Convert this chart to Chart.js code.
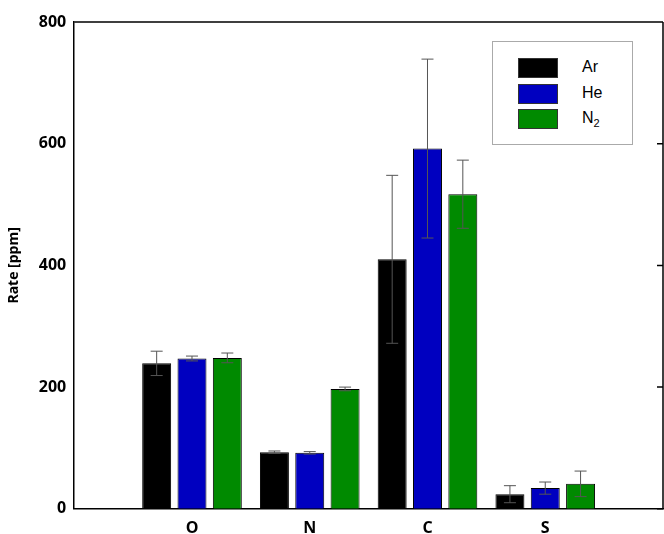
<!DOCTYPE html>
<html>
<head>
<meta charset="utf-8">
<script src="https://cdn.jsdelivr.net/npm/chart.js@4"></script>
<style>
  body { margin: 0; background: #fff; overflow: hidden; }
  #wrap { position: relative; width: 664px; height: 534px; overflow: hidden; }
  #legend { position: absolute; left: 492px; top: 41px; width: 139px; height: 102px;
    border: 1px solid #aaa; background: #fff; font-family: Arial, "Liberation Sans", sans-serif; font-size: 16px; }
  .row { position: absolute; left: 25px; height: 20px; }
  .sw { position: absolute; left: 0; top: 0; width: 38px; height: 18px; border: 1px solid #333; }
  .lb { position: absolute; left: 64px; top: 0; }
</style>
</head>
<body>
<div id="wrap">
  <canvas id="chart" width="673" height="548"></canvas>
  <div id="legend">
    <div class="row" style="top:16px"><div class="sw" style="background:#000"></div><span class="lb">Ar</span></div>
    <div class="row" style="top:42px"><div class="sw" style="background:#0000c0"></div><span class="lb">He</span></div>
    <div class="row" style="top:67px"><div class="sw" style="background:#008a00"></div><span class="lb">N<sub style="font-size:11px">2</sub></span></div>
  </div>
</div>
<script>
// ---------------- DATA -----------------------------
const categories = ["", "O", "N", "C", "S", ""];
const arValues = [null, 239, 93, 410, 24, null];
const arErrors = [0, 20, 2, 138, 14, 0];
const heValues = [null, 247, 92, 592, 34, null];
const heErrors = [0, 4, 2, 147, 10, 0];
const n2Values = [null, 248, 197, 517, 41, null];
const n2Errors = [0, 8, 3, 56, 21, 0];
const yTicks = [0, 200, 400, 600, 800];

// ERROR BARS + FRAME PLUGIN
const errorBars = {
  id: "errorBars",
  afterDatasetsDraw(chart) {
    const ctx = chart.ctx;
    const y = chart.scales.y;
    const a = chart.chartArea;
    ctx.save();
    ctx.strokeStyle = "#555";
    ctx.lineWidth = 1;
    chart.data.datasets.forEach((ds, i) => {
      chart.getDatasetMeta(i).data.forEach((bar, j) => {
        const v = ds.data[j];
        if (v == null) return;
        const e = ds.errors[j];
        const top = y.getPixelForValue(v + e);
        const bot = y.getPixelForValue(v - e);
        ctx.beginPath();
        ctx.moveTo(bar.x, top); ctx.lineTo(bar.x, bot);
        ctx.moveTo(bar.x - 6, top); ctx.lineTo(bar.x + 6, top);
        ctx.moveTo(bar.x - 6, bot); ctx.lineTo(bar.x + 6, bot);
        ctx.stroke();
      });
    });
    // top and right axes with ticks
    ctx.strokeStyle = "#000";
    ctx.lineWidth = 1.5;
    ctx.beginPath();
    ctx.moveTo(a.left, a.top); ctx.lineTo(a.right, a.top);
    ctx.moveTo(a.right, a.top); ctx.lineTo(a.right, a.bottom);
    yTicks.forEach(t => {
      const p = y.getPixelForValue(t);
      ctx.moveTo(a.right, p); ctx.lineTo(a.right - 6, p);
    });
    ctx.stroke();
    ctx.restore();
  }
};

const config = {
  type: "bar",
  data: {
    labels: categories,
    datasets: [
      { label: "Ar", data: arValues, errors: arErrors, backgroundColor: "#000000", borderColor: "#000", borderWidth: 1 },
      { label: "He", data: heValues, errors: heErrors, backgroundColor: "#0000c0", borderColor: "#000", borderWidth: 1 },
      { label: "N2", data: n2Values, errors: n2Errors, backgroundColor: "#008a00", borderColor: "#000", borderWidth: 1 },
    ],
  },
  options: {
    responsive: false,
    animation: false,
    layout: { padding: { top: 22, right: 0, left: 0, bottom: 0 } },
    datasets: { bar: { categoryPercentage: 0.9, barPercentage: 0.82 } },
    plugins: { legend: { display: false }, tooltip: { enabled: false } },
    scales: {
      x: {
        offset: false,
        grid: { display: false, drawTicks: false },
        border: { color: "#000", width: 1.5 },
        ticks: { color: "#000", font: { family: "Open Sans", size: 16, weight: "bold" }, padding: 10, maxRotation: 0 },
      },
      y: {
        min: 0, max: 800,
        afterBuildTicks: (s) => { s.ticks = yTicks.map(v => ({ value: v })); },
        grid: { display: false, drawTicks: false },
        border: { color: "#000", width: 1.5 },
        ticks: { color: "#000", font: { family: "Open Sans", size: 16, weight: "bold" }, padding: 8 },
        title: { display: true, text: "Rate [ppm]", color: "#000", font: { family: "Open Sans", size: 14, weight: "bold" }, padding: { top: 6, bottom: 8 } },
      },
    },
  },
  plugins: [errorBars],
};

// RENDER THE CHART
const chart = new Chart(document.getElementById("chart"), config);
</script>
</body>
</html>
